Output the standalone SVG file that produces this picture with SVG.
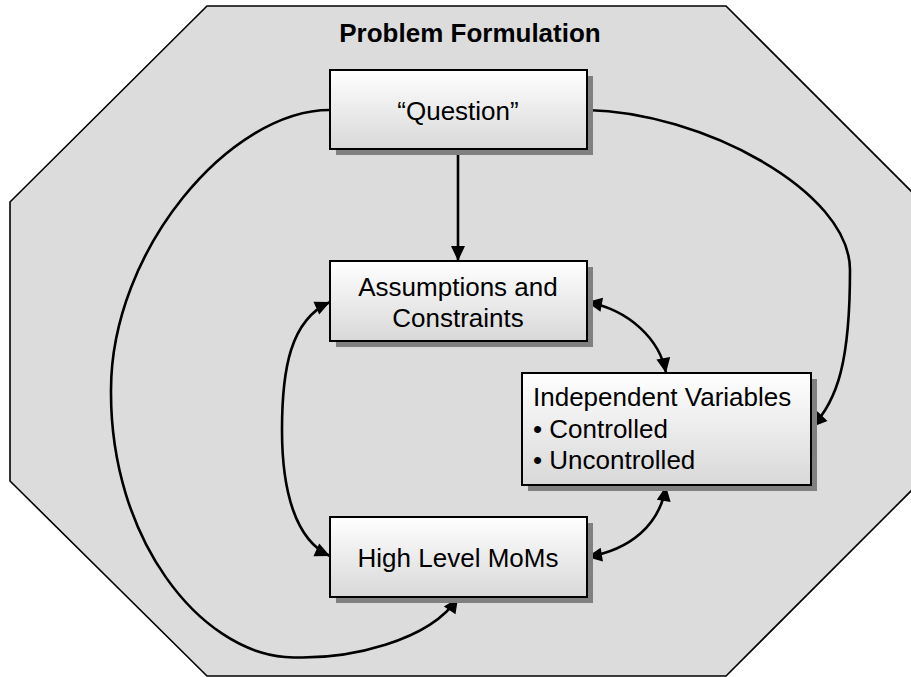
<svg xmlns="http://www.w3.org/2000/svg" width="911" height="677" viewBox="0 0 911 677">
  <defs>
    <linearGradient id="boxFill" x1="0" y1="0" x2="0" y2="1">
      <stop offset="0" stop-color="#ffffff"/>
      <stop offset="1" stop-color="#d8d8d8"/>
    </linearGradient>
    <marker id="arrow" markerUnits="userSpaceOnUse" markerWidth="16" markerHeight="14" refX="15" refY="7" orient="auto-start-reverse" overflow="visible">
      <path d="M0,0 L15,7 L0,14 z" fill="#000"/>
    </marker>
  </defs>
  <style>
    .frame { fill: #dcdcdc; stroke: #000; stroke-width: 1.6; }
    .shadow { fill: #808080; }
    .box { fill: url(#boxFill); stroke: #000; stroke-width: 2; }
    .label { font-family: "Liberation Sans", Arial, sans-serif; font-size: 26px; fill: #000; }
    .title { font-family: "Liberation Sans", Arial, sans-serif; font-size: 26px; font-weight: bold; fill: #000; }
    .link { fill: none; stroke: #000; stroke-width: 2.6; }
  </style>

  <rect x="0" y="0" width="911" height="677" fill="#ffffff"/>

  <!-- octagonal frame -->
  <g id="frame">
    <polygon class="frame" points="207,6 726,6 922,202 922,480 726,676 207,676 10,481 10,202"/>
    <text class="title" x="470" y="42" text-anchor="middle">Problem Formulation</text>
  </g>

  <!-- connectors -->
  <g id="connectors">
    <path class="link" d="M458,149 L458,261" marker-end="url(#arrow)"/>
    <path class="link" d="M330,110 C 230,110 111,250 111,390 C 110,540 200,650 285,657 C 350,661 430,640 458,598" marker-end="url(#arrow)"/>
    <path class="link" d="M587,110 C 700,112 850,190 850,270 C 850,360 838,400 812,427" marker-end="url(#arrow)"/>
    <path class="link" d="M587,302 C 630,310 660,340 666,373" marker-start="url(#arrow)" marker-end="url(#arrow)"/>
    <path class="link" d="M666,486 C 660,525 630,550 587,557" marker-start="url(#arrow)" marker-end="url(#arrow)"/>
    <path class="link" d="M330,302 C 290,320 282,370 282,430 C 282,490 295,540 330,556" marker-start="url(#arrow)" marker-end="url(#arrow)"/>
  </g>

  <g id="question">
    <rect class="shadow" x="336" y="76" width="257" height="79"/>
    <rect class="box" x="330" y="70" width="257" height="79"/>
    <text class="label" x="458" y="120" text-anchor="middle">“Question”</text>
  </g>

  <g id="assumptions">
    <rect class="shadow" x="336" y="267" width="257" height="80"/>
    <rect class="box" x="330" y="261" width="257" height="80"/>
    <text class="label" x="458" y="296" text-anchor="middle">Assumptions and</text>
    <text class="label" x="458" y="327" text-anchor="middle">Constraints</text>
  </g>

  <g id="independent-variables">
    <rect class="shadow" x="528" y="379" width="289" height="112"/>
    <rect class="box" x="522" y="373" width="289" height="112"/>
    <text class="label" x="533" y="406">Independent Variables</text>
    <text class="label" x="533" y="438">• Controlled</text>
    <text class="label" x="533" y="469">• Uncontrolled</text>
  </g>

  <g id="high-level-moms">
    <rect class="shadow" x="336" y="523" width="257" height="80"/>
    <rect class="box" x="330" y="517" width="257" height="80"/>
    <text class="label" x="458" y="567" text-anchor="middle">High Level MoMs</text>
  </g>
</svg>
